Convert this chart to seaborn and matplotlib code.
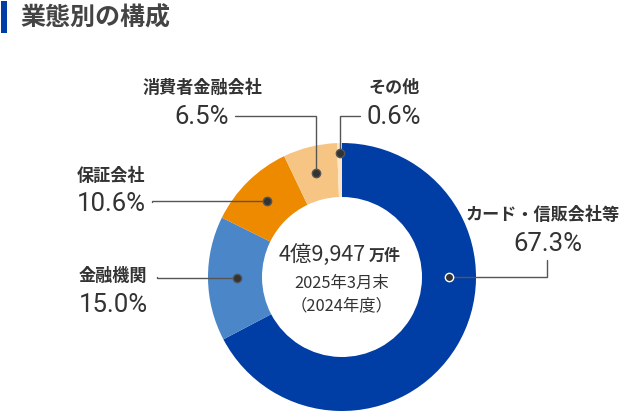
import numpy as np
import matplotlib
matplotlib.use("Agg")
import matplotlib.pyplot as plt
import seaborn as sns

# --- data ---
categories = ["カード・信販会社等", "金融機関", "保証会社", "消費者金融会社", "その他"]
shares = [67.3, 15.0, 10.6, 6.5, 0.6]
share_labels = [f"{v:.1f}%" for v in shares]
total_label = "4億9,947"
total_unit = "万件"
period_labels = ["2025年3月末", "（2024年度）"]
title = "業態別の構成"

colors = ["#003DA5", "#4A86C8", "#EE8A00", "#F7C583", "#FCE6C6"]

sns.set_theme(style="white")
plt.rcParams["font.family"] = ["Noto Sans CJK JP", "DejaVu Sans"]

W, H = 628, 412
fig = plt.figure(figsize=(W / 100, H / 100), dpi=100)
ax = fig.add_axes([0, 0, 1, 1])


def Y(y):
    # screen pixel (top-down) -> data y
    return H - y


cx, cy = 342, 277
r_out, ring = 134, 54
ax.pie(shares, colors=colors, startangle=90, counterclock=False,
       radius=r_out, center=(cx, Y(cy)),
       wedgeprops=dict(width=ring, linewidth=0))
ax.set_xlim(0, W)
ax.set_ylim(0, H)
ax.set_aspect("equal")
ax.axis("off")

text_c = "#333333"
line_c = "#555555"
pct_font = ["Roboto", "DejaVu Sans"]

# label layout: (label x, label y, pct y, leader start, route, dot angle override, dot radius)
layout = {
    "カード・信販会社等": dict(x=543, ly=215, py=244, px=548, start=(547, 260), route="vh", ang=0.0, r=107),
    "金融機関": dict(x=113, ly=276, py=305, px=113, start=(157, 277), route="vh", ang=None, r=105),
    "保証会社": dict(x=111, ly=176, py=204, px=111, start=(152, 202), route="vh", ang=None, r=107),
    "消費者金融会社": dict(x=202, ly=88, py=117, px=202, start=(235, 116), route="hv", ang=None, r=107),
    "その他": dict(x=394, ly=88, py=117, px=394, start=(360, 116), route="hv", ang=None, r=124),
}

cum = np.cumsum([0] + shares[:-1])
for cat, pct, share, before in zip(categories, share_labels, shares, cum):
    lay = layout[cat]
    ang = lay["ang"] if lay["ang"] is not None else 90 - 360 * (before + share / 2) / 100
    dx = cx + lay["r"] * np.cos(np.radians(ang))
    dy = cy - lay["r"] * np.sin(np.radians(ang))
    sx, sy = lay["start"]
    if lay["route"] == "hv":
        pts = [(sx, sy), (dx, sy), (dx, dy)]
    else:
        pts = [(sx, sy), (sx, dy), (dx, dy)]
    ax.plot([p[0] for p in pts], [Y(p[1]) for p in pts], color=line_c, lw=1.0,
            solid_joinstyle="miter", zorder=3)
    edge = "white" if cat == categories[0] else line_c
    ax.plot(dx, Y(dy), "o", ms=6, color="#333333", mec=edge, mew=1.0, zorder=4)

    ax.text(lay["x"], Y(lay["ly"]), cat, ha="center", va="center",
            fontsize=12.3, fontweight="bold", color=text_c)
    ax.text(lay["px"], Y(lay["py"]), pct, ha="center", va="center",
            fontsize=18.5, color=text_c, family=pct_font)

# centre text
ax.text(366, Y(255), total_label, ha="right", va="center", fontsize=15.5,
        color=text_c)
ax.text(369, Y(256), total_unit, ha="left", va="center", fontsize=11.5,
        fontweight="bold", color=text_c)
ax.text(cx, Y(283), period_labels[0], ha="center", va="center", fontsize=11.8,
        color=text_c)
ax.text(cx, Y(306), period_labels[1], ha="center", va="center", fontsize=11.8,
        color=text_c)

# title with blue bar
ax.add_patch(plt.Rectangle((1, Y(33)), 6, 32, color="#003DA5", lw=0))
ax.text(20, Y(18), title, ha="left", va="center", fontsize=18,
        fontweight="bold", color="#444444")

fig.savefig("out.png", dpi=100)
